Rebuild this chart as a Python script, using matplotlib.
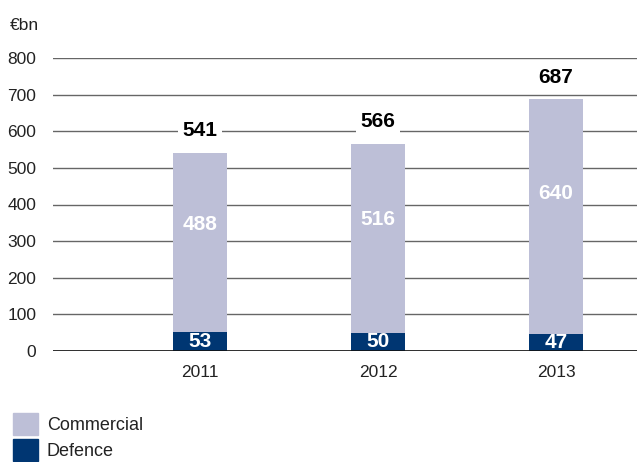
import numpy as np
import matplotlib
matplotlib.use("Agg")
import matplotlib.pyplot as plt
from matplotlib.patches import Patch

plt.rcParams['font.family'] = ['Liberation Sans', 'DejaVu Sans']

years = ["2011", "2012", "2013"]
defence = [53, 50, 47]
commercial = [488, 516, 640]
totals = [541, 566, 687]
yticks = [0, 100, 200, 300, 400, 500, 600, 700, 800]

c_comm = "#bdbfd7"
c_def = "#003672"

fig = plt.figure(figsize=(6.37, 4.62), dpi=100)
ax = fig.add_axes([53 / 637, 111 / 462, 584 / 637, 293 / 462])

x = np.arange(len(years))
w = 0.30
ax.bar(x, defence, w, color=c_def, zorder=3)
ax.bar(x, commercial, w, bottom=defence, color=c_comm, zorder=3)

ax.set_xlim(-0.826, 2.455)
ax.set_ylim(0, 800)
ax.set_yticks(yticks)
ax.set_xticks(x)
ax.set_xticklabels(years)
ax.yaxis.grid(True, color="#666666", linewidth=1.0, zorder=0)
ax.axhline(0, color="#111111", linewidth=1.2, zorder=4)
for s in ax.spines.values():
    s.set_visible(False)
ax.tick_params(axis="both", length=0, labelsize=12.5, colors="#222222")
ax.tick_params(axis="y", pad=12)
ax.tick_params(axis="x", pad=10)

for xi, d, c, t in zip(x, defence, commercial, totals):
    ax.text(xi, d / 2, str(d), ha="center", va="center", color="white",
            fontsize=15, fontweight="bold", zorder=5)
    ax.text(xi, d + c * 0.6, str(c), ha="center", va="center", color="white",
            fontsize=15, fontweight="bold", zorder=5)
    ax.text(xi, t + 60, str(t), ha="center", va="center", color="black",
            fontsize=15, fontweight="bold", zorder=5,
            bbox=dict(facecolor="white", edgecolor="none", pad=3))

fig.text(10 / 637, 1 - 26 / 462, "€bn", fontsize=12.5, color="#222222",
         va="center", ha="left")

handles = [Patch(color=c_comm), Patch(color=c_def)]
fig.legend(handles, ["Commercial", "Defence"], loc="lower left",
           bbox_to_anchor=(0.0, -0.025), frameon=False, fontsize=13,
           handlelength=1.4, handleheight=1.5, handletextpad=0.5,
           labelspacing=0.2, borderaxespad=0.3, labelcolor="#222222")

fig.savefig("out.png", dpi=100)
